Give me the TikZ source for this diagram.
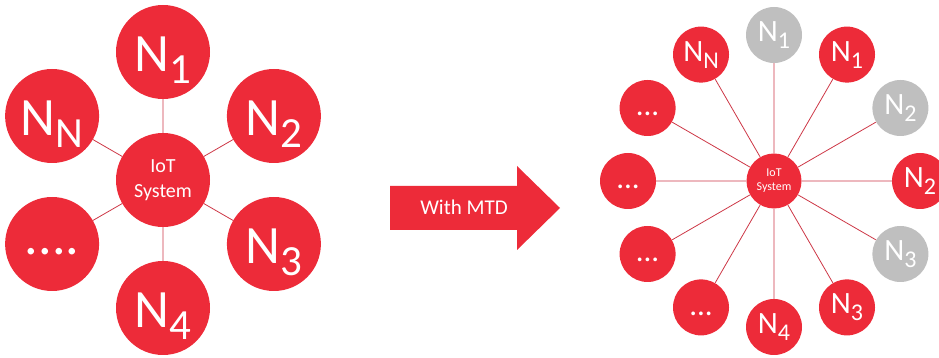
\documentclass[tikz,border=0pt]{standalone}
\usepackage{fontspec}
\setmainfont{Carlito}
\usepackage{tikz}
\usepackage{xcolor}
\usetikzlibrary{
    calc,
    positioning
}
\definecolor{mtdred}{RGB}{237,43,57}
\definecolor{mtdgray}{RGB}{191,191,191}
\definecolor{mtdline}{RGB}{205,55,70}

\newcommand{\bigN}[1]{N\raisebox{-12pt}{\fontsize{43}{43}\selectfont #1}}
\newcommand{\smallN}[1]{N\raisebox{-7pt}{\fontsize{24}{24}\selectfont #1}}

\begin{document}
\begin{tikzpicture}[x=1pt, y=1pt,
    bignode/.style={circle, fill=mtdred, text=white, inner sep=0pt, minimum size=94pt,
        font=\fontsize{54}{54}\selectfont, text height=45pt, text depth=6pt},
    bigdots/.style={bignode, text height=26pt, text depth=4pt},
    smallnode/.style={circle, fill=mtdred, text=white, inner sep=0pt, minimum size=56pt,
        font=\fontsize{31}{31}\selectfont},
    oldnode/.style={smallnode, fill=mtdgray},
    smalldots/.style={smallnode, text height=20pt, text depth=4pt},
    link/.style={draw=mtdline, line width=0.8pt}
]
\useasboundingbox (0,0) rectangle (939,358);

% before MTD
\node[bignode, font=\fontsize{20}{25}\selectfont, align=center, text height=, text depth=] (iot) at (163, 178) {IoT\\System};
\node[bignode] (n1) at (163, 306) {\bigN{1}};
\node[bignode] (n2) at (273.9, 242) {\bigN{2}};
\node[bignode] (n3) at (273.9, 114) {\bigN{3}};
\node[bignode] (n4) at (163, 50) {\bigN{4}};
\node[bigdots] (ndots) at (52.1, 114) {....};
\node[bignode] (nN) at (52.1, 242) {\bigN{N}};
\draw[link]
    (iot) -- (n1)
    (iot) -- (n2)
    (iot) -- (n3)
    (iot) -- (n4)
    (iot) -- (ndots)
    (iot) -- (nN);

% arrow
\fill[mtdred] (390,128) -- (517,128) -- (517,108) -- (560,150) -- (517,192) -- (517,172) -- (390,172) -- cycle;
\node[text=white, font=\fontsize{21}{21}\selectfont] (mtd) at (464,151) {With MTD};

% with MTD
\node[smallnode, minimum size=55pt, font=\fontsize{12}{14}\selectfont, align=center] (iotb) at (774, 177) {IoT\\System};
\node[oldnode] (g1) at (774, 323) {\smallN{1}};
\node[smallnode] (r1) at (847, 303.4) {\smallN{1}};
\node[oldnode] (g2) at (900.4, 250) {\smallN{2}};
\node[smallnode] (r2) at (920, 177) {\smallN{2}};
\node[oldnode] (g3) at (900.4, 104) {\smallN{3}};
\node[smallnode] (r3) at (847, 50.6) {\smallN{3}};
\node[smallnode] (r4) at (774, 31) {\smallN{4}};
\node[smalldots] (d1) at (701, 50.6) {...};
\node[smalldots] (d2) at (647.6, 104) {...};
\node[smalldots] (d3) at (628, 177) {...};
\node[smalldots] (d4) at (647.6, 250) {...};
\node[smallnode] (rN) at (701, 303.4) {\smallN{N}};
\draw[link]
    (iotb) -- (g1)
    (iotb) -- (r1)
    (iotb) -- (g2)
    (iotb) -- (r2)
    (iotb) -- (g3)
    (iotb) -- (r3)
    (iotb) -- (r4)
    (iotb) -- (d1)
    (iotb) -- (d2)
    (iotb) -- (d3)
    (iotb) -- (d4)
    (iotb) -- (rN);
\end{tikzpicture}
\end{document}
